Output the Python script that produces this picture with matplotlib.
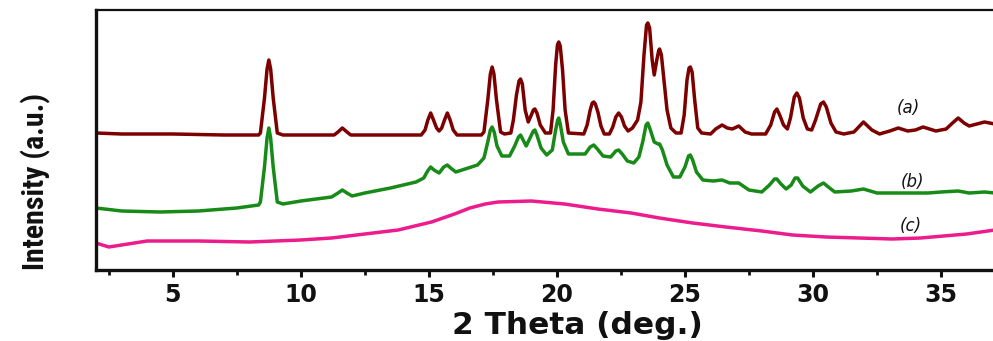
import matplotlib
matplotlib.use("Agg")
import matplotlib.pyplot as plt
from matplotlib.ticker import MultipleLocator
from matplotlib import font_manager as fm

# ---- data (2-theta in degrees, intensity in arbitrary units) ----
a_x = [2.0, 3.0, 5.0, 7.0, 8.35, 8.42, 8.58, 8.68, 8.75, 8.82, 8.92, 9.08, 9.3,
       11.3, 11.45, 11.62, 11.8, 11.95,
       14.7, 14.85, 14.96, 15.07, 15.18, 15.30, 15.40, 15.50, 15.61, 15.72, 15.83, 15.95, 16.1,
       17.05, 17.15, 17.30, 17.40, 17.47, 17.54, 17.64, 17.80, 17.95,
       18.20, 18.30, 18.42, 18.52, 18.58, 18.65, 18.76, 18.88, 19.00, 19.08, 19.14, 19.22, 19.35, 19.55,
       19.75, 19.85, 19.95, 20.02, 20.07, 20.13, 20.22, 20.32, 20.45,
       21.05, 21.18, 21.30, 21.38, 21.44, 21.50, 21.60, 21.72, 21.85,
       22.05, 22.18, 22.30, 22.41, 22.52, 22.64, 22.78,
       22.95, 23.15, 23.28, 23.40, 23.50, 23.55, 23.62, 23.72, 23.80, 23.90, 23.98, 24.01, 24.08,
       24.18, 24.30, 24.45, 24.65,
       24.85, 24.97, 25.08, 25.16, 25.21, 25.28, 25.38, 25.50, 25.65,
       26.0, 26.2, 26.45, 26.65, 26.85, 27.1, 27.35, 27.6,
       28.15, 28.35, 28.50, 28.59, 28.70, 28.85, 29.00, 29.12, 29.27, 29.37, 29.47, 29.62, 29.78,
       29.95, 30.10, 30.30, 30.41, 30.52, 30.70, 30.90, 31.2,
       31.6, 31.97, 32.3, 32.6, 33.0, 33.33, 33.7, 34.0, 34.3, 34.8, 35.2, 35.45, 35.67, 35.9,
       36.1, 36.4, 36.7, 37.1]
a_y = [137, 136, 136, 135, 135, 137, 172, 201, 210, 201, 172, 137, 135,
       135, 138, 142, 138, 135,
       135, 140, 150, 157, 150, 142, 139, 142, 150, 157, 150, 140, 135,
       135, 138, 170, 196, 203, 196, 170, 138, 136,
       137, 150, 175, 189, 191, 186, 160, 148, 155, 160, 161, 157, 145, 137,
       137, 160, 205, 225, 228, 224, 200, 160, 137,
       136, 145, 160, 167, 168, 166, 158, 144, 136,
       136, 143, 153, 157, 153, 144, 139,
       142, 150, 168, 215, 245, 247, 242, 210, 195, 210, 220, 221, 215,
       190, 160, 142, 137,
       137, 155, 190, 202, 203, 198, 170, 142, 137,
       136, 141, 145, 142, 141, 144, 138, 136,
       136, 145, 158, 161, 155, 145, 141, 152, 173, 177, 172, 152, 141,
       140, 150, 166, 168, 163, 147, 138, 136,
       138, 148, 140, 136, 139, 142, 139, 140, 143, 139, 141, 147, 152, 147,
       144, 146, 148, 146]

b_x = [2.0, 3.0, 4.5, 6.0, 7.5, 8.35, 8.42, 8.58, 8.68, 8.75, 8.82, 8.92, 9.08, 9.3,
       10.0, 11.2, 11.45, 11.62, 11.8, 12.0, 12.5, 13.5, 14.5, 14.8, 14.95, 15.07, 15.2,
       15.4, 15.58, 15.72, 15.85, 16.05, 16.9, 17.15, 17.30, 17.40, 17.47, 17.55, 17.66,
       17.85, 18.15, 18.35, 18.50, 18.58, 18.68, 18.80, 18.95, 19.08, 19.14, 19.22, 19.38,
       19.6, 19.82, 19.95, 20.03, 20.07, 20.13, 20.25, 20.45, 21.1, 21.3, 21.44, 21.58,
       21.8, 22.1, 22.3, 22.41, 22.55, 22.75, 23.0, 23.2, 23.35, 23.48, 23.55, 23.65,
       23.80, 23.95, 24.01, 24.12, 24.3, 24.55, 24.8, 25.0, 25.14, 25.21, 25.3, 25.45,
       25.7, 26.1, 26.45, 26.75, 27.1, 27.5, 28.0, 28.3, 28.5, 28.59, 28.75, 28.95,
       29.15, 29.3, 29.4, 29.6, 29.9, 30.2, 30.41, 30.6, 30.85, 31.5, 31.97, 32.5,
       33.5, 34.5, 35.0, 35.67, 36.1, 36.7, 37.1]
b_y = [62, 59, 58, 59, 62, 65, 68, 103, 132, 142, 132, 103, 68, 66,
       69, 73, 77, 80, 77, 74, 77, 82, 88, 92, 99, 103, 100,
       97, 103, 105, 102, 98, 105, 112, 128, 140, 143, 138, 124,
       114, 114, 124, 133, 135, 130, 124, 132, 139, 140, 135, 122,
       115, 120, 140, 150, 152, 146, 128, 116, 116, 123, 125, 121,
       114, 113, 119, 120, 116, 109, 107, 113, 128, 145, 147, 140,
       128, 126, 126, 120, 105, 93, 93, 103, 114, 115, 110, 98,
       90, 89, 90, 87, 87, 80, 78, 85, 91, 91, 86, 81,
       85, 92, 92, 84, 78, 84, 87, 83, 78, 79, 81, 77,
       77, 77, 78, 79, 77, 78, 77]

c_x = [2.0, 2.5, 3.0, 4.0, 6.0, 8.0, 10.0, 11.2, 12.5, 13.8, 15.1, 16.0, 16.6, 17.2,
       17.7, 19.0, 20.3, 21.6, 22.9, 24.0, 25.3, 26.6, 28.0, 29.2, 30.5, 31.8, 33.1,
       34.2, 35.1, 36.0, 37.1]
c_y = [27, 23, 25, 29, 29, 28, 30, 32, 36, 40, 48, 56, 62, 66,
       68, 69, 66, 61, 57, 52, 47, 43, 39, 35, 33, 32, 31,
       32, 34, 36, 40]

series_labels = ["(a)", "(b)", "(c)"]
label_x = [33.72, 33.87, 33.83]
label_y = [162, 88, 44]
colors = ["#7D0000", "#178A17", "#EC1C8C"]

x_ticks = [5, 10, 15, 20, 25, 30, 35]
x_label = "2 Theta (deg.)"
y_label = "Intensity (a.u.)"


def font_exists(name):
    try:
        fm.findfont(fm.FontProperties(family=name), fallback_to_default=False)
        return True
    except Exception:
        return False


ylab_family, ylab_size = "Liberation Sans", 19.5
for cand in ["Liberation Sans Narrow", "Roboto Condensed", "Open Sans Condensed",
             "DejaVu Sans Condensed", "Arial Narrow"]:
    if font_exists(cand):
        ylab_family, ylab_size = cand, 21.5
        break

# ---- figure ----
W, H = 993, 341
fig = plt.figure(figsize=(W / 100, H / 100), dpi=100)
left, right, top, bottom = 96, 993, 10, 270
ax = fig.add_axes([left / W, 1 - bottom / H, (right - left) / W, (bottom - top) / H])

for xs, ys, col in zip([a_x, b_x, c_x], [a_y, b_y, c_y], colors):
    ax.plot(xs, ys, color=col, lw=2.5, solid_joinstyle="round", solid_capstyle="round")

for lab, lx, ly in zip(series_labels, label_x, label_y):
    ax.text(lx, ly, lab, fontsize=12, style="italic", ha="center", va="center",
            color="#111111", family="DejaVu Sans")

ax.set_xlim(2.0, 37.03)
ax.set_ylim(0, 260)

ax.set_xticks(x_ticks)
ax.xaxis.set_minor_locator(MultipleLocator(2.5))
ax.set_yticks([])
ax.tick_params(axis="x", which="major", direction="out", length=5, width=2.2,
               labelsize=17, pad=4, colors="#111111")
ax.tick_params(axis="x", which="minor", direction="out", length=3.5, width=2.0,
               colors="#111111")
for t in ax.get_xticklabels():
    t.set_fontweight("bold")
    t.set_family("DejaVu Sans")

ax.spines["right"].set_visible(False)
ax.spines["left"].set_linewidth(2.4)
ax.spines["bottom"].set_linewidth(2.4)
ax.spines["top"].set_linewidth(1.6)
for s in ax.spines.values():
    s.set_color("#111111")

fig.text(577 / W, 1 - 334 / H, x_label, fontsize=22.5, fontweight="bold",
         family="DejaVu Sans", ha="center", va="baseline", color="#111111")
fig.text(36 / W, 1 - 181 / H, y_label, fontsize=ylab_size, rotation=90, fontweight="bold",
         family=ylab_family, ha="center", va="center", color="#111111")

fig.savefig("out.png", dpi=100)
